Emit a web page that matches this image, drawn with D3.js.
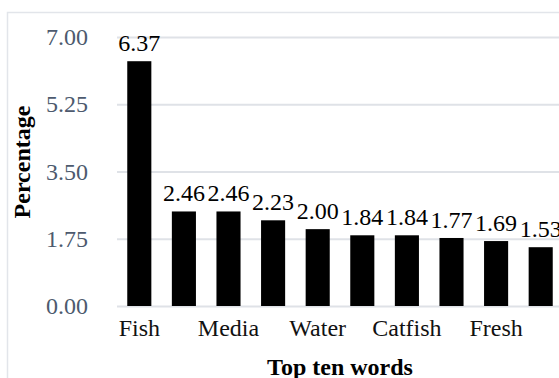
<!DOCTYPE html>
<html>
<head>
<meta charset="utf-8">
<script src="https://cdn.jsdelivr.net/npm/d3@7"></script>
<style>
  html, body { margin: 0; padding: 0; background: #fff; }
  svg { display: block; font-family: "Liberation Serif", "Times New Roman", serif; }
</style>
</head>
<body>
<svg id="chart" width="559" height="378"></svg>
<script>
// Share of the ten most frequent words
const ranks = [1, 2, 3, 4, 5, 6, 7, 8, 9, 10];
const values = [6.37, 2.46, 2.46, 2.23, 2.00, 1.84, 1.84, 1.77, 1.69, 1.53];
// Category labels that fit under the axis (every other word)
const xLabels = ["Fish", "", "Media", "", "Water", "", "Catfish", "", "Fresh", ""];
const yTicks = [0, 1.75, 3.5, 5.25, 7];

const svg = d3.select("#chart");
const W = 559, H = 378;
const plot = { left: 117, right: 563, top: 37, bottom: 306 };
const FONT = "Liberation Serif, Times New Roman, serif";

// outer frame
svg.append("path")
  .attr("d", `M7.5,${H} V12.5 H${W}`)
  .attr("fill", "none")
  .attr("stroke", "#e2e5ea")
  .attr("stroke-width", 1.5);

const x = d3.scaleBand()
  .domain(ranks)
  .range([plot.left, plot.right])
  .paddingInner(0.46)
  .paddingOuter(0.23);

const y = d3.scaleLinear()
  .domain([0, 7])
  .range([plot.bottom, plot.top]);

// gridlines + y tick labels
const yAxis = d3.axisLeft(y)
  .tickValues(yTicks)
  .tickFormat(d3.format(".2f"))
  .tickSize(-(plot.right - plot.left))
  .tickPadding(29);

const gy = svg.append("g")
  .attr("transform", `translate(${plot.left},0)`)
  .call(yAxis);
gy.select(".domain").remove();
gy.selectAll(".tick line")
  .attr("stroke", "#dfe2e7")
  .attr("stroke-width", 2.2);
gy.selectAll(".tick text")
  .attr("fill", "#4d5a6e")
  .attr("font-size", 24)
  .attr("font-family", FONT);

// bars
svg.append("g")
  .selectAll("rect")
  .data(values)
  .join("rect")
  .attr("x", (d, i) => x(ranks[i]))
  .attr("width", x.bandwidth())
  .attr("y", d => y(d))
  .attr("height", d => y(0) - y(d))
  .attr("fill", "#000");

// value labels
svg.append("g")
  .selectAll("text")
  .data(values)
  .join("text")
  .attr("x", (d, i) => x(ranks[i]) + x.bandwidth() / 2)
  .attr("y", d => y(d) - 10)
  .attr("text-anchor", "middle")
  .attr("font-size", 24)
  .attr("fill", "#000")
  .text(d => d3.format(".2f")(d));

// x axis labels
const xAxis = d3.axisBottom(x)
  .tickSize(0)
  .tickFormat((d, i) => xLabels[i]);
const gx = svg.append("g")
  .attr("transform", `translate(0,${plot.bottom})`)
  .call(xAxis);
gx.select(".domain").remove();
gx.selectAll(".tick text")
  .attr("y", 30)
  .attr("dy", 0)
  .attr("fill", "#111")
  .attr("font-size", 24)
  .attr("font-family", FONT);

// axis titles
svg.append("text")
  .attr("x", 340)
  .attr("y", 375)
  .attr("text-anchor", "middle")
  .attr("font-size", 24)
  .attr("font-weight", "bold")
  .text("Top ten words");

svg.append("text")
  .attr("transform", "translate(30,162) rotate(-90)")
  .attr("text-anchor", "middle")
  .attr("font-size", 24)
  .attr("font-weight", "bold")
  .text("Percentage");
</script>
</body>
</html>
